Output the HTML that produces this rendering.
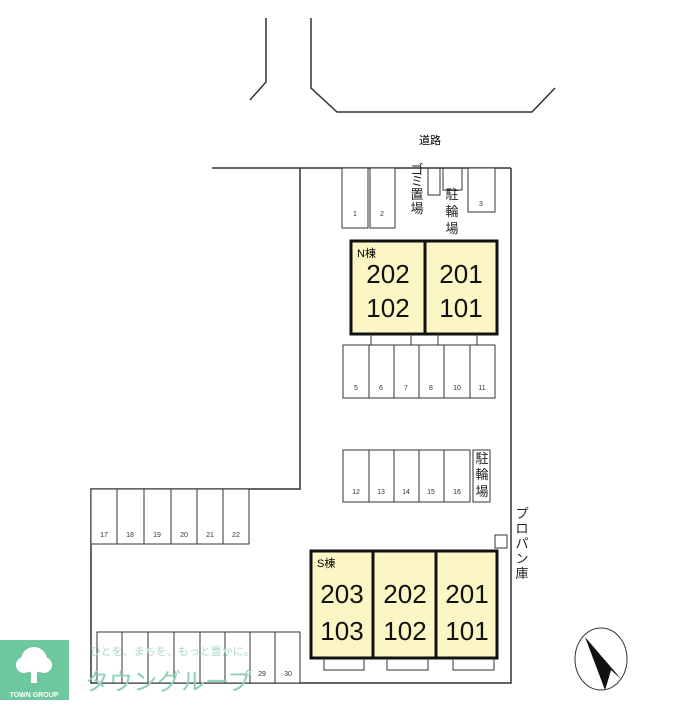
<!DOCTYPE html>
<html><head><meta charset="utf-8"><style>
body{margin:0;background:#fff;}
svg text{font-family:"Liberation Sans","Noto Sans CJK JP",sans-serif;}
</style></head><body>
<svg width="700" height="700" viewBox="0 0 700 700" xmlns="http://www.w3.org/2000/svg">
<g fill="none" stroke="#333" stroke-width="1.5">
<polyline points="266,18 266,82 250,100"/>
<polyline points="311,18 311,88 337,112 532,112 555,88"/>
<polyline points="212,168 511,168"/>
<polyline points="300,168 300,489 91,489 91,683 511,683 511,168"/>
</g>
<text x="430" y="144" font-size="11" text-anchor="middle">道路</text>
<g fill="#fff" stroke="#333" stroke-width="1">
<rect x="342" y="168" width="26" height="60"/><rect x="370" y="168" width="25" height="60"/>
<rect x="468" y="168" width="27" height="44"/>
<polyline points="428,168 428,195 440,195 440,168" fill="none"/>
<polyline points="443,168 443,190 462,190 462,168" fill="none"/>
</g>
<g font-size="7" text-anchor="middle" fill="#333"><text x="355" y="216">1</text><text x="382" y="216">2</text><text x="481" y="206">3</text></g>
<g font-size="13" fill="#222" text-anchor="middle">
<text x="417" y="174">ゴ</text><text x="417" y="186">ミ</text><text x="417" y="199">置</text><text x="417" y="213">場</text>
<text x="452" y="199">駐</text><text x="452" y="216">輪</text><text x="452" y="233">場</text>
</g>
<g stroke="#111" stroke-width="3" fill="#fbf6c4">
<rect x="351" y="241" width="74" height="93"/><rect x="425" y="241" width="72" height="93"/>
</g>
<text x="357" y="257" font-size="11">N棟</text>
<g font-size="26" text-anchor="middle" fill="#111">
<text x="388" y="283">202</text><text x="388" y="317">102</text>
<text x="461" y="283">201</text><text x="461" y="317">101</text>
</g>
<g stroke="#333" stroke-width="1" fill="none">
<line x1="371" y1="334" x2="371" y2="345"/><line x1="411" y1="334" x2="411" y2="345"/>
<line x1="438" y1="334" x2="438" y2="345"/><line x1="477" y1="334" x2="477" y2="345"/>
</g>
<g fill="#fff" stroke="#333" stroke-width="1">
<rect x="343" y="345" width="26" height="53"/><rect x="369" y="345" width="25" height="53"/><rect x="394" y="345" width="25" height="53"/><rect x="419" y="345" width="25" height="53"/><rect x="444" y="345" width="26" height="53"/><rect x="470" y="345" width="25" height="53"/>
<rect x="343" y="450" width="26" height="52"/><rect x="369" y="450" width="25" height="52"/><rect x="394" y="450" width="25" height="52"/><rect x="419" y="450" width="25" height="52"/><rect x="444" y="450" width="26" height="52"/>
<rect x="473" y="450" width="17" height="52"/>
<rect x="91" y="489" width="26" height="55"/><rect x="117" y="489" width="27" height="55"/><rect x="144" y="489" width="27" height="55"/><rect x="171" y="489" width="26" height="55"/><rect x="197" y="489" width="26" height="55"/><rect x="223" y="489" width="26" height="55"/>
<rect x="97" y="632" width="25" height="51"/><rect x="122" y="632" width="26" height="51"/><rect x="148" y="632" width="26" height="51"/><rect x="174" y="632" width="26" height="51"/><rect x="200" y="632" width="25" height="51"/><rect x="225" y="632" width="25" height="51"/><rect x="250" y="632" width="25" height="51"/><rect x="275" y="632" width="25" height="51"/>
<rect x="495" y="535" width="12" height="13"/>
</g>
<g font-size="7" text-anchor="middle" fill="#333">
<text x="356" y="390">5</text><text x="381" y="390">6</text><text x="406" y="390">7</text><text x="431" y="390">8</text><text x="457" y="390">10</text><text x="482" y="390">11</text>
<text x="356" y="494">12</text><text x="381" y="494">13</text><text x="406" y="494">14</text><text x="431" y="494">15</text><text x="457" y="494">16</text>
<text x="104" y="537">17</text><text x="130" y="537">18</text><text x="157" y="537">19</text><text x="184" y="537">20</text><text x="210" y="537">21</text><text x="236" y="537">22</text>
<text x="262" y="676">29</text><text x="288" y="676">30</text>
</g>
<g font-size="13" fill="#222" text-anchor="middle">
<text x="482" y="463">駐</text><text x="482" y="479">輪</text><text x="482" y="496">場</text>
<text x="522" y="518">プ</text><text x="522" y="533">ロ</text><text x="522" y="548">パ</text><text x="522" y="563">ン</text><text x="522" y="578">庫</text>
</g>
<g stroke="#111" stroke-width="3" fill="#fbf6c4">
<rect x="311" y="551" width="62" height="107"/><rect x="373" y="551" width="63" height="107"/><rect x="436" y="551" width="61" height="107"/>
</g>
<text x="317" y="567" font-size="11">S棟</text>
<g font-size="26" text-anchor="middle" fill="#111">
<text x="342" y="603">203</text><text x="342" y="640">103</text>
<text x="405" y="603">202</text><text x="405" y="640">102</text>
<text x="467" y="603">201</text><text x="467" y="640">101</text>
</g>
<g stroke="#333" stroke-width="1" fill="none">
<polyline points="324,658 324,670 364,670 364,658"/>
<polyline points="387,658 387,670 428,670 428,658"/>
<polyline points="453,658 453,670 494,670 494,658"/>
</g>
<ellipse cx="601" cy="659" rx="26" ry="31" fill="none" stroke="#333" stroke-width="1"/>
<polygon points="585,637 622,680 611,670 605,690" fill="#111"/>
<polygon points="585,637 603,668 611,670 605,690 600,668" fill="#111"/>
<rect x="0" y="640" width="69" height="60" fill="#6dc79f"/>
<circle cx="34" cy="660" r="13" fill="#fff"/>
<circle cx="24" cy="665" r="8" fill="#fff"/><circle cx="44" cy="665" r="8" fill="#fff"/>
<rect x="31" y="668" width="6" height="15" fill="#fff"/>
<text x="34" y="697" font-size="7" fill="#fff" text-anchor="middle" font-weight="bold">TOWN GROUP</text>
<text x="90" y="655" font-size="11" fill="#a8dcc4">ひとを、まちを、もっと豊かに。</text>
<text x="85" y="690" font-size="24" fill="#8fd2b3">タウングループ</text>
</svg>
</body></html>
